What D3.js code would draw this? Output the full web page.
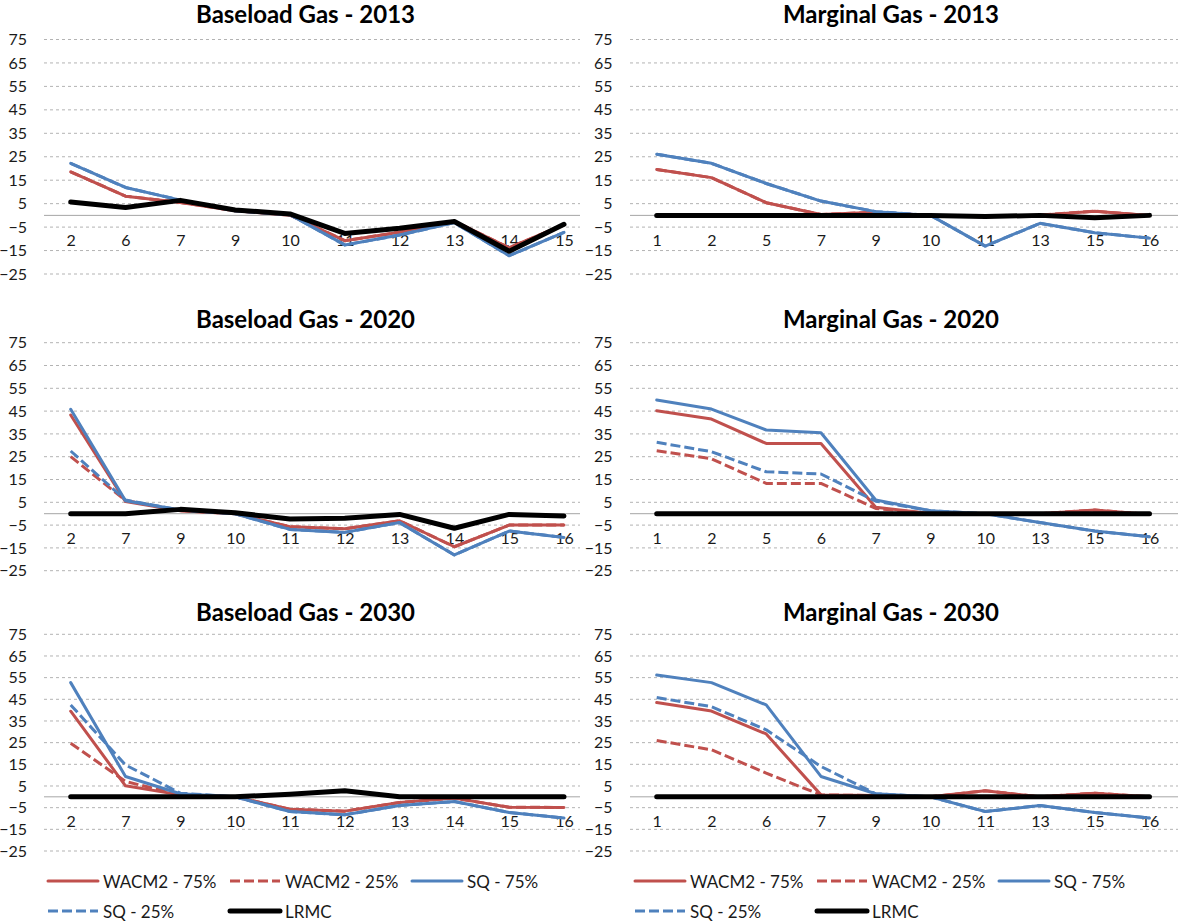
<!DOCTYPE html>
<html>
<head>
<meta charset="utf-8">
<script src="https://cdn.jsdelivr.net/npm/d3@7"></script>
<style>
  html, body { margin: 0; padding: 0; background: #fff; }
  svg { display: block; font-family: Lato, "Open Sans", sans-serif; }
</style>
</head>
<body>
<svg id="chart" width="1178" height="924"></svg>
<script>
// ---- data ---------------------------------------------------------------
const yTicks = [75, 65, 55, 45, 35, 25, 15, 5, -5, -15, -25];

const seriesNames = ["WACM2 - 75%", "WACM2 - 25%", "SQ - 75%", "SQ - 25%", "LRMC"];

// Baseload Gas - 2013
const catsBase2013 = ["2", "6", "7", "9", "10", "11", "12", "13", "14", "15"];
const base2013Wacm75 = [18.6, 8.2, 5.5, 2.0, 0.1, -10.8, -7.2, -2.5, -13.8, -4.0];
const base2013Wacm25 = [18.6, 8.2, 5.5, 2.0, 0.1, -10.8, -7.2, -2.5, -13.8, -4.0];
const base2013Sq75 = [22.2, 11.9, 6.5, 2.0, 0.3, -12.6, -8.4, -3.1, -17.2, -7.2];
const base2013Sq25 = [22.2, 11.9, 6.5, 2.0, 0.3, -12.6, -8.4, -3.1, -17.2, -7.2];
const base2013Lrmc = [5.7, 3.4, 6.4, 2.3, 0.6, -7.7, -5.5, -2.6, -15.3, -3.8];

// Marginal Gas - 2013
const catsMarg2013 = ["1", "2", "5", "7", "9", "10", "11", "13", "15", "16"];
const marg2013Wacm75 = [19.6, 16.1, 5.4, 0.4, 1.3, 0, -0.6, 0.1, 1.8, -0.1];
const marg2013Wacm25 = [19.6, 16.1, 5.4, 0.4, 1.3, 0, -0.6, 0.1, 1.8, -0.1];
const marg2013Sq75 = [26.1, 22.2, 13.6, 6.1, 1.6, 0, -13.1, -3.4, -7.4, -9.7];
const marg2013Sq25 = [26.1, 22.2, 13.6, 6.1, 1.6, 0, -13.1, -3.4, -7.4, -9.7];
const marg2013Lrmc = [0, 0, 0, 0, 0, 0, -0.5, 0, -1.0, 0];

// Baseload Gas - 2020
const catsBase2020 = ["2", "7", "9", "10", "11", "12", "13", "14", "15", "16"];
const base2020Wacm75 = [43.3, 5.3, 1.3, 0, -5.7, -6.6, -3.1, -14.5, -5.0, -5.0];
const base2020Wacm25 = [25.0, 5.8, 1.3, 0, -5.7, -6.6, -3.1, -14.5, -5.0, -5.0];
const base2020Sq75 = [45.8, 5.7, 1.6, 0, -6.9, -8.2, -3.9, -18.1, -7.6, -10.4];
const base2020Sq25 = [27.5, 6.0, 1.6, 0, -6.9, -8.2, -3.9, -18.1, -7.6, -10.4];
const base2020Lrmc = [0, 0, 1.9, 0.4, -2.3, -2.0, -0.3, -6.4, -0.3, -1.0];

// Marginal Gas - 2020
const catsMarg2020 = ["1", "2", "5", "6", "7", "9", "10", "13", "15", "16"];
const marg2020Wacm75 = [45.2, 41.5, 30.8, 30.8, 2.8, 0.1, 0, 0, 1.6, -0.3];
const marg2020Wacm25 = [27.6, 24.1, 13.3, 13.3, 2.3, 0.1, 0, 0, 1.6, -0.3];
const marg2020Sq75 = [49.9, 45.9, 36.7, 35.5, 6.0, 1.3, 0, -3.9, -7.6, -10.1];
const marg2020Sq25 = [31.3, 27.2, 18.4, 17.4, 5.5, 1.3, 0, -3.9, -7.6, -10.1];
const marg2020Lrmc = [0, 0, 0, 0, 0, 0, 0, 0, 0, 0];

// Baseload Gas - 2030
const catsBase2030 = ["2", "7", "9", "10", "11", "12", "13", "14", "15", "16"];
const base2030Wacm75 = [39.5, 5.1, 0.9, 0, -5.7, -6.6, -2.6, -0.6, -4.8, -4.9];
const base2030Wacm25 = [24.7, 7.1, 0.9, 0, -5.7, -6.6, -2.6, -0.6, -4.8, -4.9];
const base2030Sq75 = [52.7, 9.4, 1.4, 0, -6.8, -8.3, -4.0, -2.2, -7.2, -9.8];
const base2030Sq25 = [42.4, 14.7, 1.7, 0, -6.8, -8.3, -4.0, -2.2, -7.2, -9.8];
const base2030Lrmc = [0, 0, 0, 0, 1.2, 2.8, 0, 0, 0, 0];

// Marginal Gas - 2030
const catsMarg2030 = ["1", "2", "6", "7", "9", "10", "11", "13", "15", "16"];
const marg2030Wacm75 = [43.5, 39.6, 29.0, 0.9, 0.6, 0, 2.8, 0, 1.7, 0];
const marg2030Wacm25 = [26.0, 21.7, 10.9, 0.9, 0.6, 0, 2.8, 0, 1.7, 0];
const marg2030Sq75 = [56.2, 52.7, 42.4, 9.4, 1.4, 0, -6.8, -4.0, -7.2, -9.8];
const marg2030Sq25 = [45.8, 41.6, 30.9, 14.0, 1.4, 0, -6.8, -4.0, -7.2, -9.8];
const marg2030Lrmc = [0, 0, 0, 0, 0, 0, 0, 0, 0, 0];

// ---- panel table built from the arrays above ----------------------------
const panels = [
  { title: "Baseload Gas - 2013", row: 0, col: 0, cats: catsBase2013,
    series: [base2013Wacm75, base2013Wacm25, base2013Sq75, base2013Sq25, base2013Lrmc] },
  { title: "Marginal Gas - 2013", row: 0, col: 1, cats: catsMarg2013,
    series: [marg2013Wacm75, marg2013Wacm25, marg2013Sq75, marg2013Sq25, marg2013Lrmc] },
  { title: "Baseload Gas - 2020", row: 1, col: 0, cats: catsBase2020,
    series: [base2020Wacm75, base2020Wacm25, base2020Sq75, base2020Sq25, base2020Lrmc] },
  { title: "Marginal Gas - 2020", row: 1, col: 1, cats: catsMarg2020,
    series: [marg2020Wacm75, marg2020Wacm25, marg2020Sq75, marg2020Sq25, marg2020Lrmc] },
  { title: "Baseload Gas - 2030", row: 2, col: 0, cats: catsBase2030,
    series: [base2030Wacm75, base2030Wacm25, base2030Sq75, base2030Sq25, base2030Lrmc] },
  { title: "Marginal Gas - 2030", row: 2, col: 1, cats: catsMarg2030,
    series: [marg2030Wacm75, marg2030Wacm25, marg2030Sq75, marg2030Sq25, marg2030Lrmc] }
];

// ---- layout & style -----------------------------------------------------
const rowsLayout = [
  { titleY: 13.5, top: 39.5, bottom: 274 },
  { titleY: 318, top: 342.7, bottom: 570.7 },
  { titleY: 611.7, top: 634.3, bottom: 851 }
];
const colsLayout = [
  { gridX0: 44, gridX1: 580, firstX: 70.7, lastX: 564, tickX: 27, titleX: 305.5 },
  { gridX0: 630, gridX1: 1178, firstX: 656.7, lastX: 1149.5, tickX: 612.5, titleX: 891 }
];
const seriesStyle = [
  { color: "#C0504D", width: 3, dash: null },
  { color: "#C0504D", width: 3, dash: "10,4" },
  { color: "#4F81BD", width: 3, dash: null },
  { color: "#4F81BD", width: 3, dash: "10,4" },
  { color: "#000000", width: 5, dash: null }
];

const svg = d3.select("#chart");
svg.append("rect").attr("width", 1178).attr("height", 924).attr("fill", "#fff");

panels.forEach(p => {
  const R = rowsLayout[p.row], C = colsLayout[p.col];
  const g = svg.append("g");

  const y = d3.scaleLinear().domain([-25, 75]).range([R.bottom, R.top]);
  const x = d3.scalePoint().domain(p.cats).range([C.firstX, C.lastX]);

  // title
  g.append("text")
    .attr("x", C.titleX).attr("y", R.titleY)
    .attr("text-anchor", "middle").attr("dominant-baseline", "central")
    .attr("font-weight", "bold").attr("font-size", 24).attr("fill", "#000")
    .text(p.title);

  // dashed horizontal gridlines
  g.append("g").selectAll("line").data(yTicks).join("line")
    .attr("x1", C.gridX0).attr("x2", C.gridX1)
    .attr("y1", d => y(d)).attr("y2", d => y(d))
    .attr("stroke", "#b3b3b3").attr("stroke-width", 1)
    .attr("stroke-dasharray", "3,3");

  // y axis labels
  const yAxis = d3.axisLeft(y).tickValues(yTicks).tickSize(0).tickPadding(0);
  const ya = g.append("g").attr("transform", `translate(${C.tickX},0)`).call(yAxis);
  ya.select(".domain").remove();
  ya.selectAll("text").attr("font-size", 16).attr("fill", "#1a1a1a")
    .attr("font-family", "Lato, 'Open Sans', sans-serif");

  // category axis along the zero line
  g.append("line")
    .attr("x1", C.gridX0).attr("x2", C.gridX1)
    .attr("y1", y(0)).attr("y2", y(0))
    .attr("stroke", "#a6a6a6").attr("stroke-width", 1);

  const xAxis = d3.axisBottom(x).tickSize(0).tickPadding(0);
  const xa = g.append("g").attr("transform", `translate(0,${y(0) + 25})`).call(xAxis);
  xa.select(".domain").remove();
  xa.selectAll("text").attr("font-size", 16).attr("fill", "#1a1a1a")
    .attr("dy", "0.35em")
    .attr("font-family", "Lato, 'Open Sans', sans-serif");

  // series lines, drawn in legend order
  const line = d3.line().x((d, i) => x(p.cats[i])).y(d => y(d));
  p.series.forEach((vals, si) => {
    const s = seriesStyle[si];
    g.append("path")
      .datum(vals)
      .attr("d", line)
      .attr("fill", "none")
      .attr("stroke", s.color)
      .attr("stroke-width", s.width)
      .attr("stroke-linejoin", "round")
      .attr("stroke-linecap", s.dash ? "butt" : "round")
      .attr("stroke-dasharray", s.dash);
  });
});

// ---- legends (one under each column) ------------------------------------
const legendStarts = [48, 635];
const legendSlots = [
  { dx: 0, y: 881 }, { dx: 182, y: 881 }, { dx: 364, y: 881 },
  { dx: 0, y: 911 }, { dx: 182, y: 911 }
];
legendStarts.forEach(x0 => {
  const lg = svg.append("g");
  seriesNames.forEach((name, i) => {
    const s = seriesStyle[i], slot = legendSlots[i];
    lg.append("line")
      .attr("x1", x0 + slot.dx).attr("x2", x0 + slot.dx + 50)
      .attr("y1", slot.y).attr("y2", slot.y)
      .attr("stroke", s.color).attr("stroke-width", s.width === 5 ? 5 : 3)
      .attr("stroke-linecap", s.dash ? "butt" : "round")
      .attr("stroke-dasharray", s.dash);
    lg.append("text")
      .attr("x", x0 + slot.dx + 55).attr("y", slot.y)
      .attr("dominant-baseline", "central")
      .attr("font-size", 17).attr("fill", "#1a1a1a")
      .text(name);
  });
});
</script>
</body>
</html>
